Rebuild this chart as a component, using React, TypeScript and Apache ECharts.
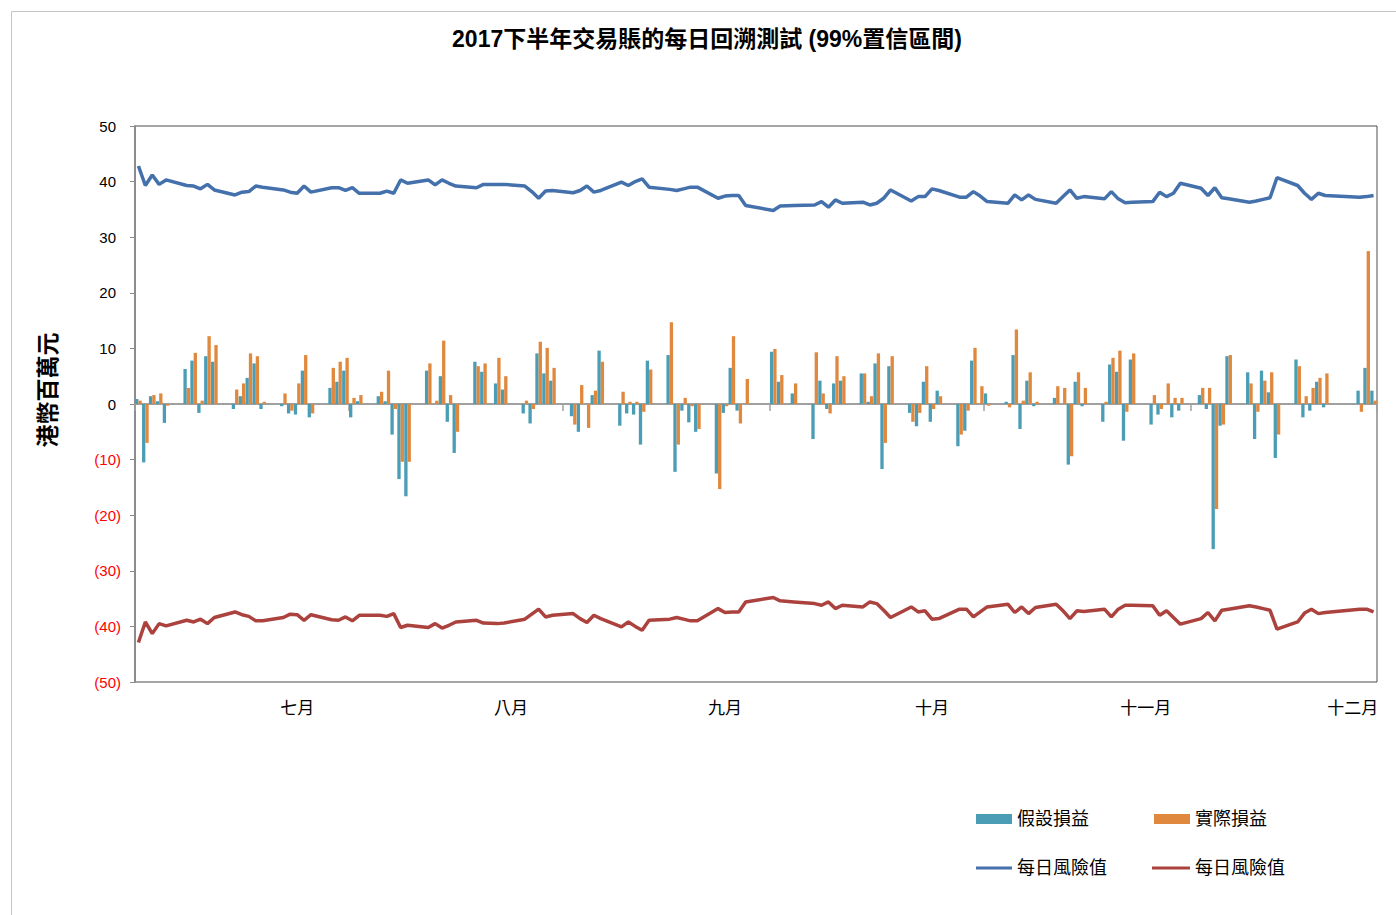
import React, { useEffect, useRef } from 'react';
import * as echarts from 'echarts';

const chartTitle = '2017下半年交易賬的每日回溯測試 (99%置信區間)';
const yAxisTitle = '港幣百萬元';
const startDate = '2017-07-03';
const endDate = '2017-12-29';
const holidays = ['2017-08-23', '2017-10-02', '2017-10-05', '2017-12-25', '2017-12-26'];
const monthLabelDates = ['2017-07-26', '2017-08-26', '2017-09-26', '2017-10-26', '2017-11-26', '2017-12-26'];
const monthNames = ['七月', '八月', '九月', '十月', '十一月', '十二月'];
const tickDates = ['2017-07-03', '2017-08-03', '2017-09-03', '2017-10-03', '2017-11-03', '2017-12-03'];
const yTicks = [-50, -40, -30, -20, -10, 0, 10, 20, 30, 40, 50];

const seriesNames = ['假設損益', '實際損益', '每日風險值', '每日風險值(下限)'];

// values per trading day (125 days)
const hypothetical = [
  0.9, -10.5, 1.4, 0.5, -3.4,
  6.3, 7.8, -1.6, 8.6, 7.6,
  -0.9, 1.4, 4.7, 7.3, -0.9,
  -0.4, -1.7, -1.9, 6.0, -2.4,
  2.9, 4.0, 6.0, -2.4, 0.5,
  1.4, 0.5, -5.5, -13.5, -16.6,
  6.0, 0, 5.0, -3.2, -8.8,
  7.6, 5.8, 3.7, 2.6,
  -1.7, -3.5, 9.1, 5.5, 4.2,
  -2.2, -5.0, 0, 1.6, 9.6,
  -3.9, -1.7, -1.9, -7.3, 7.8,
  8.8, -12.2, -1.2, -3.3, -5.0,
  -12.5, -1.6, 6.5, -1.2, 0,
  9.4, 4.0, 1.9,
  -6.3, 4.2, -0.9, 3.7, 4.2,
  5.5, 0.4, 7.3, -11.7, 6.8,
  -1.6, -4.0, 4.0, -3.2, 2.4,
  -7.6, -4.8, 7.8, 0, 1.9,
  0.4, 8.8, -4.5, 4.2, -0.4,
  1.1, 0, -10.9, 4.0, -0.4,
  -3.2, 7.1, 5.8, -6.6, 8.0,
  -3.7, -1.9, 0, -2.4, -1.2,
  1.6, -0.9, -26.1, -3.9, 8.6,
  5.7, -6.3, 6.0, 2.1, -9.7,
  8.0, -2.4, -1.2, 4.0, -0.6,
  2.4, 6.5, 2.4,
];

const actual = [
  0.6, -7.0, 1.6, 1.9, -0.3,
  2.9, 9.2, 0.6, 12.2, 10.6,
  2.6, 3.7, 9.1, 8.6, 0.4,
  1.9, -1.2, 3.7, 8.8, -1.7,
  6.5, 7.6, 8.3, 1.1, 1.6,
  2.2, 6.0, -0.9, -10.4, -10.4,
  7.3, 0.6, 11.4, 1.6, -5.0,
  6.8, 7.3, 8.3, 5.0,
  0.6, -0.9, 11.2, 10.1, 6.5,
  -3.7, 3.4, -4.3, 2.4, 7.6,
  2.2, 0.4, 0.4, -1.4, 6.2,
  14.7, -7.3, 1.1, -0.4, -4.5,
  -15.3, -0.4, 12.2, -3.5, 4.5,
  9.9, 5.2, 3.7,
  9.3, 1.9, -1.7, 8.6, 5.0,
  5.5, 1.4, 9.1, -7.0, 8.6,
  -3.2, -1.6, 6.8, -0.9, 1.4,
  -5.5, -1.2, 10.1, 3.2, -0.3,
  -0.6, 13.4, 0.6, 5.7, 0.4,
  3.2, 2.9, -9.4, 5.7, 2.9,
  0.4, 8.3, 9.6, -1.4, 9.1,
  1.6, -0.9, 3.7, 1.1, 1.1,
  2.9, 2.9, -18.9, -3.7, 8.8,
  3.7, -1.4, 4.2, 5.7, -5.5,
  6.8, 1.4, 2.9, 4.7, 5.5,
  -1.4, 27.5, 0.6,
];

const varUpper = [
  42.8, 39.3, 41.2, 39.5, 40.3,
  39.3, 39.2, 38.7, 39.5, 38.5,
  37.6, 38.1, 38.2, 39.2, 39.0,
  38.5, 38.1, 37.9, 39.2, 38.1,
  38.9, 38.9, 38.4, 38.9, 37.9,
  37.9, 38.3, 37.9, 40.3, 39.7,
  40.3, 39.4, 40.3, 39.7, 39.2,
  38.9, 39.5, 39.5, 39.5,
  39.2, 38.2, 37.0, 38.3, 38.4,
  38.0, 38.4, 39.2, 38.1, 38.4,
  39.9, 39.3, 40.0, 40.5, 39.0,
  38.6, 38.4, 38.7, 39.0, 39.0,
  37.0, 37.4, 37.5, 37.5, 35.7,
  34.8, 35.6, 35.7,
  35.8, 36.4, 35.4, 36.7, 36.1,
  36.3, 35.8, 36.1, 37.0, 38.5,
  36.5, 37.3, 37.3, 38.7, 38.4,
  37.2, 37.2, 38.2, 37.4, 36.4,
  36.1, 37.6, 36.7, 37.6, 36.8,
  36.1, 37.3, 38.5, 37.0, 37.3,
  36.9, 38.2, 36.9, 36.2, 36.3,
  36.4, 38.1, 37.3, 37.9, 39.7,
  38.8, 37.5, 38.9, 37.1, 36.9,
  36.3, 36.5, 36.8, 37.1, 40.7,
  39.3, 37.9, 36.8, 37.9, 37.5,
  37.2, 37.3, 37.5,
];

const varLower = [
  -42.9, -39.2, -41.3, -39.5, -39.9,
  -38.9, -39.2, -38.7, -39.5, -38.4,
  -37.4, -37.9, -38.2, -39.0, -39.0,
  -38.4, -37.8, -37.9, -38.9, -37.9,
  -38.8, -38.9, -38.3, -39.0, -38.0,
  -38.0, -38.2, -37.7, -40.2, -39.8,
  -40.2, -39.5, -40.3, -39.8, -39.2,
  -38.9, -39.4, -39.5, -39.4,
  -38.7, -37.8, -36.9, -38.3, -38.0,
  -37.7, -38.6, -39.3, -38.0, -38.6,
  -40.1, -39.2, -40.0, -40.7, -38.9,
  -38.7, -38.4, -38.7, -39.0, -39.0,
  -36.8, -37.5, -37.4, -37.4, -35.6,
  -34.8, -35.4, -35.6,
  -35.9, -36.2, -35.6, -36.8, -36.2,
  -36.5, -35.6, -35.9, -37.1, -38.4,
  -36.5, -37.4, -37.2, -38.7, -38.6,
  -36.9, -36.9, -38.3, -37.4, -36.5,
  -36.0, -37.5, -36.5, -37.7, -36.6,
  -36.0, -37.2, -38.6, -37.2, -37.3,
  -36.9, -38.3, -36.9, -36.2, -36.2,
  -36.3, -38.0, -37.2, -38.4, -39.6,
  -38.6, -37.5, -39.0, -37.1, -36.9,
  -36.3, -36.5, -36.8, -37.1, -40.5,
  -39.2, -37.6, -36.9, -37.7, -37.5,
  -36.9, -36.9, -37.4,
];

function buildCalendar(): string[] {
  const days: string[] = [];
  const d = new Date(startDate + 'T00:00:00Z');
  const end = new Date(endDate + 'T00:00:00Z');
  while (d.getTime() <= end.getTime()) {
    days.push(d.toISOString().slice(0, 10));
    d.setUTCDate(d.getUTCDate() + 1);
  }
  return days;
}

const calendar = buildCalendar();
const tradingDays = calendar.filter((s) => {
  const wd = new Date(s + 'T00:00:00Z').getUTCDay();
  return wd !== 0 && wd !== 6 && holidays.indexOf(s) < 0;
});

function spread(values: number[]): (number | null)[] {
  const m = new Map<string, number>();
  tradingDays.forEach((d, i) => m.set(d, values[i]));
  return calendar.map((d) => (m.has(d) ? (m.get(d) as number) : null));
}

const FONT = '"Liberation Sans", "Noto Sans CJK TC", sans-serif';

export default function App() {
  const ref = useRef<HTMLDivElement>(null);
  useEffect(() => {
    if (!ref.current) return;
    const chart = echarts.init(ref.current, undefined, { renderer: 'svg' });
    const legendBase = {
      orient: 'horizontal',
      padding: 0,
      itemGap: 0,
      selectedMode: false,
      textStyle: { fontSize: 18, color: '#000', fontFamily: FONT },
    };
    chart.setOption({
      animation: false,
      backgroundColor: '#fff',
      textStyle: { fontFamily: FONT },
      grid: {
        left: 135,
        right: 19,
        top: 126,
        bottom: 233,
        show: true,
        borderColor: '#4d4d4d',
        borderWidth: 1,
      },
      graphic: [
        {
          type: 'rect',
          z: -10,
          shape: { x: 11.5, y: 11.5, width: 1420, height: 1000 },
          style: { fill: 'none', stroke: '#c4c4c4', lineWidth: 1 },
        },
        {
          type: 'text',
          x: 707,
          y: 39,
          style: {
            text: chartTitle,
            fontSize: 23,
            fontWeight: 'bold',
            fontFamily: FONT,
            fill: '#000',
            align: 'center',
            verticalAlign: 'middle',
          },
        },
        {
          type: 'text',
          x: 48,
          y: 390,
          rotation: Math.PI / 2,
          style: {
            text: yAxisTitle,
            fontSize: 23,
            fontWeight: 'bold',
            fontFamily: FONT,
            fill: '#000',
            align: 'center',
            verticalAlign: 'middle',
          },
        },
      ],
      legend: [
        { ...legendBase, data: [seriesNames[0]], left: 976, top: 810, itemWidth: 36, itemHeight: 10, icon: 'rect' },
        { ...legendBase, data: [seriesNames[1]], left: 1154, top: 810, itemWidth: 36, itemHeight: 10, icon: 'rect' },
        { ...legendBase, data: [seriesNames[2]], left: 976, top: 859, itemWidth: 36, itemHeight: 3, icon: 'rect' },
        {
          ...legendBase,
          data: [seriesNames[3]],
          left: 1152,
          top: 859,
          itemWidth: 38,
          itemHeight: 3,
          icon: 'rect',
          formatter: () => seriesNames[2],
        },
      ],
      xAxis: [
        {
          type: 'category',
          data: calendar,
          position: 'bottom',
          boundaryGap: true,
          axisLine: { onZero: true, lineStyle: { color: '#a0a0a0', width: 2 } },
          axisTick: {
            show: true,
            length: 7,
            interval: (i: number, v: string) => tickDates.indexOf(v) >= 0,
            lineStyle: { color: '#a0a0a0', width: 1.5 },
          },
          axisLabel: { show: false },
          splitLine: { show: false },
        },
        {
          type: 'category',
          data: calendar,
          position: 'bottom',
          boundaryGap: true,
          axisLine: { show: false, onZero: false },
          axisTick: { show: false },
          axisLabel: {
            show: true,
            margin: 18,
            fontSize: 17,
            color: '#000',
            fontFamily: FONT,
            interval: (i: number, v: string) => monthLabelDates.indexOf(v) >= 0,
            formatter: (v: string) => {
              const k = monthLabelDates.indexOf(v);
              return k >= 0 ? monthNames[k] : '';
            },
          },
          splitLine: { show: false },
        },
      ],
      yAxis: {
        type: 'value',
        min: yTicks[0],
        max: yTicks[yTicks.length - 1],
        interval: 10,
        axisLine: { show: true, lineStyle: { color: '#8c8c8c', width: 2 } },
        axisTick: { show: true, length: 5, lineStyle: { color: '#8c8c8c' } },
        splitLine: { show: false },
        axisLabel: {
          margin: 14,
          fontFamily: FONT,
          formatter: (v: number) => (v < 0 ? `{neg|(${-v})}` : `{pos|${v}}`),
          rich: {
            neg: { color: '#ff0000', fontSize: 15, fontFamily: FONT },
            pos: { color: '#000', fontSize: 15, fontFamily: FONT, padding: [0, 5, 0, 0] },
          },
        },
      },
      series: [
        {
          name: seriesNames[0],
          type: 'bar',
          data: spread(hypothetical),
          itemStyle: { color: '#4a9db5' },
          barGap: '0%',
          barCategoryGap: '4%',
        },
        {
          name: seriesNames[1],
          type: 'bar',
          data: spread(actual),
          itemStyle: { color: '#e0883e' },
          barGap: '0%',
          barCategoryGap: '4%',
        },
        {
          name: seriesNames[2],
          type: 'line',
          data: spread(varUpper),
          connectNulls: true,
          symbol: 'none',
          lineStyle: { color: '#4470ac', width: 3.5 },
          itemStyle: { color: '#4470ac' },
        },
        {
          name: seriesNames[3],
          type: 'line',
          data: spread(varLower),
          connectNulls: true,
          symbol: 'none',
          lineStyle: { color: '#ab423e', width: 3.5 },
          itemStyle: { color: '#ab423e' },
        },
      ],
    });
    return () => chart.dispose();
  }, []);
  return (
    <div
      ref={ref}
      style={{ position: 'absolute', left: 0, top: 0, width: 1396, height: 915 }}
    />
  );
}
